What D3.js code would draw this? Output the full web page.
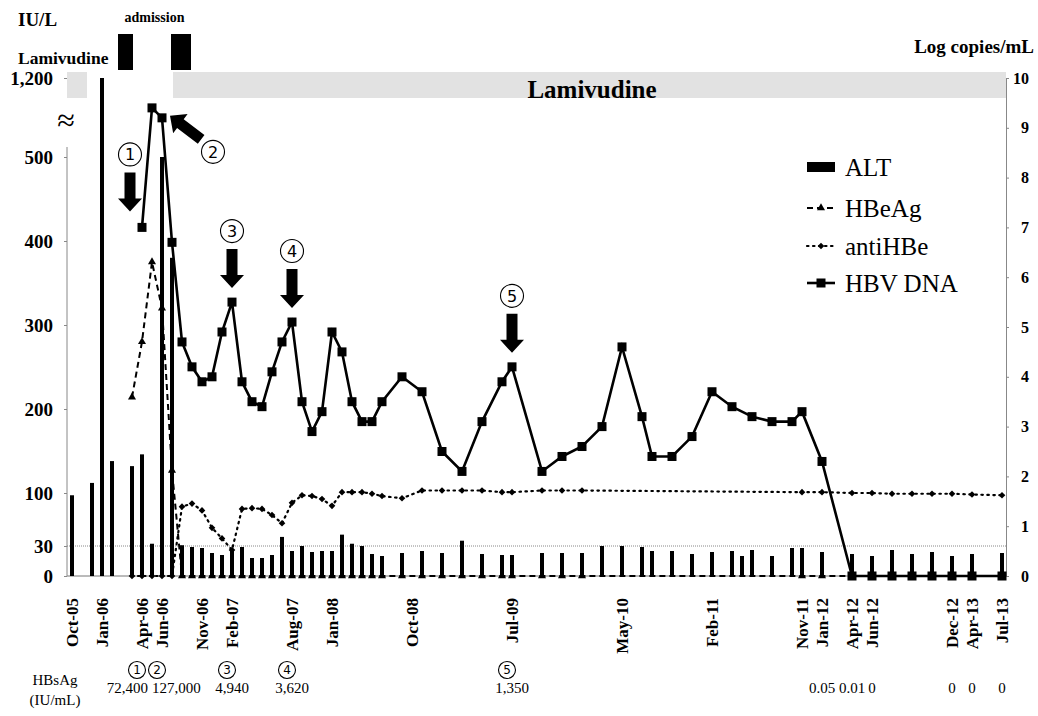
<!DOCTYPE html>
<html><head><meta charset="utf-8">
<script src="https://cdn.jsdelivr.net/npm/d3@7"></script>
<style>
body{margin:0;background:#fff;}
svg{display:block;font-family:"Liberation Serif","Times New Roman",serif;}
</style></head><body>
<svg id="c" width="1038" height="716"></svg>
<script>
// ---------- DATA (x = visit index along the category axis) ----------
const alt = [[0,97],[2,112],[3,1200],[4,138],[6,132],[7,146],[8,33],[9,500],[10,380],[11,31],[12,29],[13,28],[14,23],[15,21],[16,25],[17,29],[18,18],[19,18],[20,21],[21,42],[22,25],[23,30],[24,24],[25,25],[26,25],[27,45],[28,33],[29,30],[30,22],[31,20],[33,23],[35,25],[37,23],[39,37],[41,22],[43,21],[44,21],[47,23],[49,23],[51,23],[53,30],[55,30],[57,29],[58,25],[60,25],[62,22],[64,24],[66,25],[67,20],[68,26],[70,20],[72,28],[73,28],[75,24],[78,22],[80,20],[82,26],[84,22],[86,24],[88,20],[90,22],[93,23]];
const hbeag = [[6,214],[7,280],[8,375],[9,320],[10,127],[11,0],[12,0],[13,0],[14,0],[15,0],[16,0],[17,0],[18,0],[19,0],[20,0],[21,0],[22,0],[23,0],[24,0],[25,0],[26,0],[27,0],[28,0],[29,0],[30,0],[31,0],[33,0],[35,0],[37,0],[39,0],[41,0],[43,0],[44,0],[47,0],[49,0],[51,0],[73,0],[75,0],[78,0]];
const antiHBe = [[6,0],[7,0],[8,0],[9,0],[10,0],[11,82],[12,86],[13,77],[14,54],[15,40],[16,26],[17,79],[18,80],[19,79],[20,71],[21,60],[22,87],[23,97],[24,96],[25,92],[26,83],[27,101],[28,101],[29,101],[30,99],[31,96],[33,93],[35,103],[37,103],[39,103],[41,103],[43,101],[44,101],[47,103],[49,103],[51,103],[73,101],[75,101],[78,100],[80,100],[82,99],[84,99],[86,99],[88,99],[90,98],[93,97]];
const hbvDNA = [[7,7.0],[8,9.4],[9,9.2],[10,6.7],[11,4.7],[12,4.2],[13,3.9],[14,4.0],[15,4.9],[16,5.5],[17,3.9],[18,3.5],[19,3.4],[20,4.1],[21,4.7],[22,5.1],[23,3.5],[24,2.9],[25,3.3],[26,4.9],[27,4.5],[28,3.5],[29,3.1],[30,3.1],[31,3.5],[33,4.0],[35,3.7],[37,2.5],[39,2.1],[41,3.1],[43,3.9],[44,4.2],[47,2.1],[49,2.4],[51,2.6],[53,3.0],[55,4.6],[57,3.2],[58,2.4],[60,2.4],[62,2.8],[64,3.7],[66,3.4],[68,3.2],[70,3.1],[72,3.1],[73,3.3],[75,2.3],[78,0],[80,0],[82,0],[84,0],[86,0],[88,0],[90,0],[93,0]];
const xTickLabels = [[0,'Oct-05'],[3,'Jan-06'],[7,'Apr-06'],[9,'Jun-06'],[13,'Nov-06'],[16,'Feb-07'],[22,'Aug-07'],[26,'Jan-08'],[34,'Oct-08'],[44,'Jul-09'],[55,'May-10'],[64,'Feb-11'],[73,'Nov-11'],[75,'Jan-12'],[78,'Apr-12'],[80,'Jun-12'],[88,'Dec-12'],[90,'Apr-13'],[93,'Jul-13']];
const hbsAg = [[7,'72,400'],[9,'127,000'],[16,'4,940'],[22,'3,620'],[44,'1,350'],[75,'0.05'],[78,'0.01'],[80,'0'],[88,'0'],[90,'0'],[93,'0']];
const events = [[6,'1'],[9,'2'],[16,'3'],[22,'4'],[44,'5']];
const bottomMarks = [[7,'1'],[9,'2'],[16,'3'],[22,'4'],[44,'5']];
const lamivudinePeriods = [[-0.5,1.5],[10.1,93.4]];
const admissions = [[4.6,6.1],[9.9,11.9]];
const leftTicks = [0,30,100,200,300,400,500,1200];
const rightTicks = [0,1,2,3,4,5,6,7,8,9,10];
const seriesNames = ['ALT','HBeAg','antiHBe','HBV DNA'];

// ---------- SCALES ----------
const svg = d3.select('#c');
const x = d3.scaleLinear().domain([-0.5,93.5]).range([67,1007]);
const yL = d3.scaleLinear().domain([0,30,100,500,1200]).range([576,546,493,157,78]);
const yR = d3.scaleLinear().domain([0,10]).range([576,78]);
const X0 = x(-0.5), X1 = x(93.4);

// Lamivudine band
svg.append('g').selectAll('rect').data(lamivudinePeriods).join('rect')
  .attr('x',d=>x(d[0])).attr('width',d=>x(d[1])-x(d[0]))
  .attr('y',yL(1200)-6).attr('height',26).attr('fill','#e2e2e2');
svg.append('text').attr('x',x(52)).attr('y',98).attr('text-anchor','middle')
  .attr('font-weight','bold').attr('font-size',25).text('Lamivudine');

// admissions
svg.append('g').selectAll('rect').data(admissions).join('rect')
  .attr('x',d=>x(d[0])).attr('width',d=>x(d[1])-x(d[0]))
  .attr('y',34).attr('height',36).attr('fill','#000');
svg.append('text').attr('x',(x(admissions[0][0])+x(admissions[1][1]))/2).attr('y',22)
  .attr('text-anchor','middle').attr('font-weight','bold').attr('font-size',14).text('admission');
svg.append('text').attr('x',18).attr('y',26).attr('font-weight','bold').attr('font-size',19).text('IU/L');
svg.append('text').attr('x',18).attr('y',64).attr('font-weight','bold').attr('font-size',17.5).text('Lamivudine');
svg.append('text').attr('x',1034).attr('y',53).attr('text-anchor','end').attr('font-weight','bold').attr('font-size',19).text('Log copies/mL');
svg.append('text').attr('x',66).attr('y',131).attr('text-anchor','middle').attr('font-size',32).text('≈');

// reference line at 30 and baseline
svg.append('line').attr('x1',X0).attr('x2',X1).attr('y1',yL(30)).attr('y2',yL(30))
  .attr('stroke','#888').attr('stroke-width',1).attr('stroke-dasharray','1,1');
svg.append('line').attr('x1',X0).attr('x2',X1).attr('y1',yL(0)).attr('y2',yL(0))
  .attr('stroke','#777').attr('stroke-width',1);

// left axis
const gL = svg.append('g').attr('transform',`translate(${X0},0)`)
  .call(d3.axisLeft(yL).tickValues(leftTicks).tickFormat(d3.format(',')).tickSize(3).tickPadding(11));
gL.select('.domain').remove();
gL.append('line').attr('x1',0).attr('x2',0).attr('y1',yL(500)-10).attr('y2',yL(0)).attr('stroke','#888');
gL.selectAll('.tick line').attr('stroke','#888');
gL.selectAll('text').attr('font-family','Liberation Serif').attr('font-weight','bold').attr('font-size',19).attr('fill','#000');

// right axis
const gR = svg.append('g').attr('transform',`translate(${X1},0)`)
  .call(d3.axisRight(yR).tickValues(rightTicks).tickSize(3).tickPadding(6));
gR.select('.domain').attr('stroke','#888');
gR.selectAll('.tick line').attr('stroke','#888');
gR.selectAll('text').attr('font-family','Liberation Serif').attr('font-weight','bold').attr('font-size',16).attr('fill','#000')
  .attr('text-anchor','end').attr('x',23);

// bottom axis labels
const gB = svg.append('g').attr('transform',`translate(0,${yL(0)})`)
  .call(d3.axisBottom(x).tickValues(xTickLabels.map(d=>d[0])).tickFormat((d,i)=>xTickLabels[i][1]).tickSize(0));
gB.select('.domain').remove();
gB.selectAll('text').attr('font-family','Liberation Serif').attr('font-weight','bold').attr('font-size',17).attr('fill','#000')
  .attr('transform','rotate(-90)').attr('text-anchor','end').attr('x',-22).attr('y',0).attr('dy','0.35em');

// ALT bars
svg.append('g').selectAll('rect').data(alt).join('rect')
  .attr('x',d=>x(d[0])-2).attr('width',4)
  .attr('y',d=>yL(d[1])).attr('height',d=>yL(0)-yL(d[1])).attr('fill','#000');

// HBeAg
const lineL = d3.line().x(d=>x(d[0])).y(d=>yL(d[1]));
const lineR = d3.line().x(d=>x(d[0])).y(d=>yR(d[1]));
svg.append('path').datum(hbeag).attr('d',lineL).attr('fill','none').attr('stroke','#000')
  .attr('stroke-width',2).attr('stroke-dasharray','6,4');
svg.append('g').selectAll('path').data(hbeag).join('path')
  .attr('transform',d=>`translate(${x(d[0])},${yL(d[1])})`)
  .attr('d',d3.symbol(d3.symbolTriangle,28)).attr('fill','#000');

// antiHBe
svg.append('path').datum(antiHBe).attr('d',lineL).attr('fill','none').attr('stroke','#000')
  .attr('stroke-width',2.2).attr('stroke-dasharray','1.5,4.5').attr('stroke-linecap','round');
svg.append('g').selectAll('path').data(antiHBe).join('path')
  .attr('transform',d=>`translate(${x(d[0])},${yL(d[1])}) rotate(45)`)
  .attr('d',d3.symbol(d3.symbolSquare,22)).attr('fill','#000');

// HBV DNA
svg.append('path').datum(hbvDNA).attr('d',lineR).attr('fill','none').attr('stroke','#000').attr('stroke-width',2.6);
svg.append('g').selectAll('rect').data(hbvDNA).join('rect')
  .attr('x',d=>x(d[0])-4.5).attr('y',d=>yR(d[1])-4.5).attr('width',9).attr('height',9).attr('fill','#000');

// block arrow
const arrowPath = 'M-5.5,0 L5.5,0 L5.5,26 L12,26 L0,39 L-12,26 L-5.5,26 Z';
const hbvAt = i => hbvDNA.find(d=>d[0]===i)[1];
function circled(cx,cy,r,txt,fs){
  svg.append('circle').attr('cx',cx).attr('cy',cy).attr('r',r).attr('fill','#fff').attr('stroke','#000').attr('stroke-width',1.1);
  svg.append('text').attr('x',cx).attr('y',cy).attr('dy','0.36em').attr('text-anchor','middle')
    .attr('font-family','DejaVu Sans, sans-serif').attr('font-size',fs).text(txt);
}
events.forEach(([i,t])=>{
  if(t==='2'){
    const tipX = x(9)+8, tipY = yR(hbvAt(9))-2;
    svg.append('path').attr('d',arrowPath).attr('fill','#000')
      .attr('transform',`translate(${tipX},${tipY}) rotate(127) translate(0,-39)`);
    circled(tipX+43,tipY+36,11.5,t,16);
  } else {
    const ref = t==='1' ? hbvAt(7) : hbvAt(i);
    const tipY = yR(ref) - (t==='1'?16:14);
    const cx = x(i) - (t==='1'?2:0);
    svg.append('path').attr('d',arrowPath).attr('fill','#000')
      .attr('transform',`translate(${cx},${tipY-39})`);
    circled(cx,tipY-57,11.5,t,16);
  }
});

// bottom circled numbers and HBsAg row
bottomMarks.forEach(([i,t])=>circled(x(i)-5,670,8.5,t,12));
const hbsAnchor = {7:['end',6],9:['start',-10]};
svg.append('g').selectAll('text').data(hbsAg).join('text')
  .attr('x',d=>x(d[0])+(hbsAnchor[d[0]]?hbsAnchor[d[0]][1]:0)).attr('y',693)
  .attr('text-anchor',d=>hbsAnchor[d[0]]?hbsAnchor[d[0]][0]:'middle')
  .attr('font-size',15).text(d=>d[1]);
svg.append('text').attr('x',55).attr('y',685).attr('text-anchor','middle').attr('font-size',15).text('HBsAg');
svg.append('text').attr('x',55).attr('y',705).attr('text-anchor','middle').attr('font-size',15).text('(IU/mL)');

// legend
const lg = svg.append('g').attr('transform','translate(807,0)');
const ly = [167,208,246,283];
lg.append('rect').attr('x',0).attr('y',ly[0]-5).attr('width',28).attr('height',10).attr('fill','#000');
lg.append('line').attr('x1',0).attr('x2',28).attr('y1',ly[1]).attr('y2',ly[1]).attr('stroke','#000').attr('stroke-width',2).attr('stroke-dasharray','6,4');
lg.append('path').attr('transform',`translate(14,${ly[1]})`).attr('d',d3.symbol(d3.symbolTriangle,28));
lg.append('line').attr('x1',0).attr('x2',28).attr('y1',ly[2]).attr('y2',ly[2]).attr('stroke','#000').attr('stroke-width',2.2).attr('stroke-dasharray','1.5,4.5').attr('stroke-linecap','round');
lg.append('path').attr('transform',`translate(14,${ly[2]}) rotate(45)`).attr('d',d3.symbol(d3.symbolSquare,22));
lg.append('line').attr('x1',0).attr('x2',28).attr('y1',ly[3]).attr('y2',ly[3]).attr('stroke','#000').attr('stroke-width',2.6);
lg.append('rect').attr('x',9.5).attr('y',ly[3]-4.5).attr('width',9).attr('height',9);
lg.selectAll('text.lbl').data(seriesNames).join('text').attr('class','lbl')
  .attr('x',38).attr('y',(d,i)=>ly[i]).attr('dy','0.35em').attr('font-size',25).text(d=>d);
</script>
</body></html>
